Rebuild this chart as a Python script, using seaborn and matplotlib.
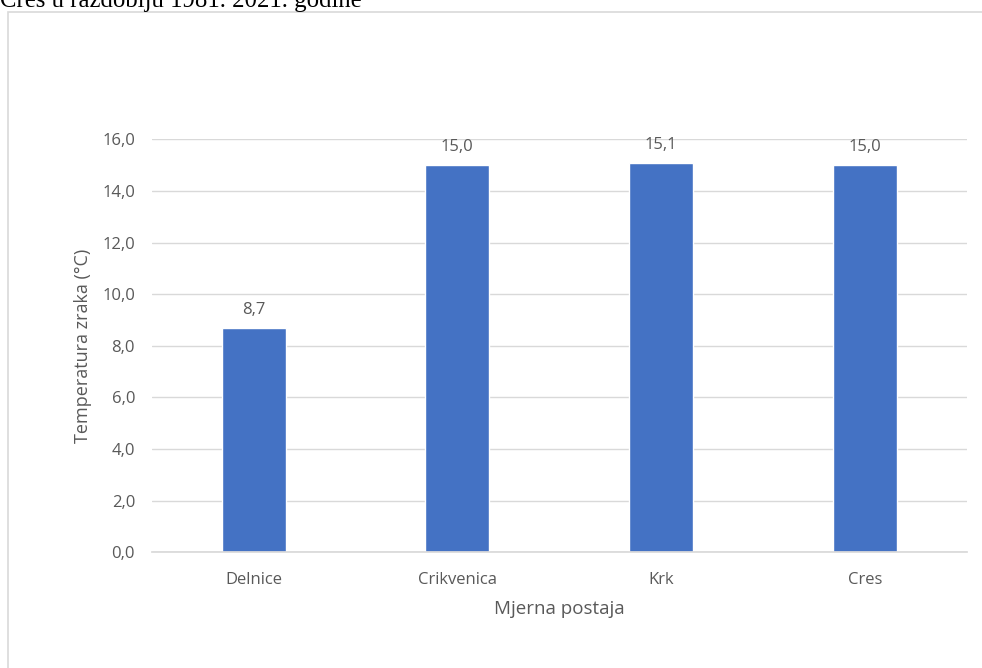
import matplotlib
matplotlib.use('Agg')
import matplotlib.pyplot as plt
import matplotlib.ticker as mticker
from matplotlib.patches import Rectangle
import seaborn as sns
import pandas as pd

# Data
STATIONS = ['Delnice', 'Crikvenica', 'Krk', 'Cres']
TEMPS = [8.7, 15.0, 15.1, 15.0]
Y_TICKS = [0, 2, 4, 6, 8, 10, 12, 14, 16]

df = pd.DataFrame({'Mjerna postaja': STATIONS, 'Temperatura': TEMPS})

sns.set_theme(style='white')
plt.rcParams['font.family'] = ['Open Sans', 'DejaVu Sans']

GREY = '#595959'
fig = plt.figure(figsize=(9.82, 6.68), dpi=100)

# chart frame (cut off at right/bottom like in the screenshot)
fig.patches.append(Rectangle((8 / 982, -0.05), 1.0, 1 - 12 / 668 + 0.05,
                             transform=fig.transFigure, fill=False,
                             edgecolor='#D9D9D9', lw=1.2))
# clipped heading text above the chart
fig.text(0.0, 1 - 7 / 668, 'Cres u razdoblju 1981. 2021. godine',
         family='Liberation Serif', fontsize=17.8, color='black', va='baseline')

ax = fig.add_axes([151.7 / 982, 1 - 552.3 / 668, 815 / 982, 413 / 668])
sns.barplot(data=df, x='Mjerna postaja', y='Temperatura', color='#4472C4',
            width=0.314, saturation=1, ax=ax)

ax.set_ylim(0, 16)
ax.set_yticks(Y_TICKS)
ax.yaxis.set_major_formatter(mticker.FuncFormatter(lambda v, p: f'{v:.1f}'.replace('.', ',')))
ax.grid(axis='y', color='#D9D9D9', lw=1)
ax.set_axisbelow(True)
for s in ['top', 'right', 'left']:
    ax.spines[s].set_visible(False)
ax.spines['bottom'].set_color('#D9D9D9')
ax.tick_params(length=0, colors=GREY, labelsize=12)
ax.tick_params(axis='y', pad=12)
ax.tick_params(axis='x', pad=14)

for i, v in enumerate(TEMPS):
    ax.annotate(f'{v:.1f}'.replace('.', ','), (i, v), xytext=(0, 7),
                textcoords='offset points', ha='center', va='bottom',
                fontsize=12, color=GREY)

ax.set_ylabel('Temperatura zraka (°C)', fontsize=13, color=GREY, labelpad=7)
ax.set_xlabel('Mjerna postaja', fontsize=13.5, color=GREY, labelpad=9)

fig.savefig('out.png', dpi=100)
